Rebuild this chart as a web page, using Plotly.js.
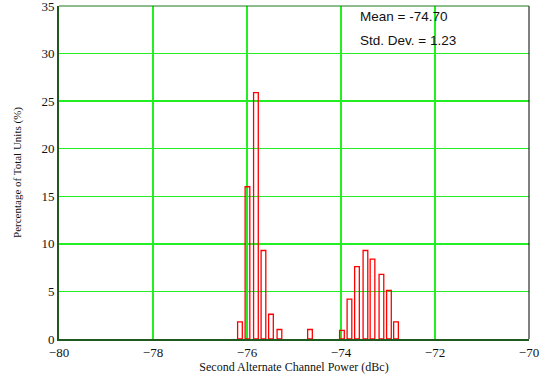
<!DOCTYPE html>
<html><head><meta charset="utf-8">
<script src="https://cdn.plot.ly/plotly-3.0.1.min.js"></script>
<style>html,body{margin:0;padding:0;background:#fff}</style>
</head><body><div id="chart" style="width:543px;height:377px"></div>
<script>
const binCenters = [-76.15, -75.99, -75.81, -75.65, -75.49, -75.31, -74.66,
                    -73.98, -73.82, -73.66, -73.48, -73.33, -73.14, -72.98, -72.83];
const percentUnits = [1.8, 16.0, 25.9, 9.3, 2.6, 1.0, 1.0,
                      0.9, 4.2, 7.6, 9.3, 8.4, 6.8, 5.1, 1.8];
const yTicks = [0, 5, 10, 15, 20, 25, 30, 35];
const statLabels = ["Mean = -74.70", "Std. Dev. = 1.23"];

const trace = {
  type: 'bar', x: binCenters, y: percentUnits, width: 0.1,
  marker: {color: 'rgba(255,255,255,0)', line: {color: '#ff0000', width: 1.3}},
  hoverinfo: 'none'
};
const gridCol = '#22ee22';
const layout = {
  width: 543, height: 377,
  margin: {l: 59, r: 14, t: 6, b: 38},
  paper_bgcolor: '#fff', plot_bgcolor: '#fff',
  showlegend: false,
  xaxis: {
    range: [-80, -70], dtick: 2, tick0: -80,
    showgrid: true, gridcolor: gridCol, gridwidth: 1.5,
    zeroline: false, showline: true, linecolor: '#1e5a1e', linewidth: 2,
    ticks: '', ticklabeloverflow: 'allow',
    tickfont: {family: 'Liberation Serif', size: 13, color: '#111'},
    title: {text: 'Second Alternate Channel Power (dBc)', font: {family: 'Liberation Serif', size: 12, color: '#111'}, standoff: 3}
  },
  yaxis: {
    range: [0, 35], tickmode: 'array', tickvals: yTicks,
    showgrid: true, gridcolor: gridCol, gridwidth: 1.5,
    zeroline: false, showline: true, linecolor: '#1e5a1e', linewidth: 2,
    ticks: '', ticklabeloverflow: 'allow',
    tickfont: {family: 'Liberation Serif', size: 13, color: '#111'},
    title: {text: 'Percentage of Total Units (%)', font: {family: 'Liberation Serif', size: 11, color: '#111'}, standoff: 18}
  },
  shapes: [
    {type: 'line', xref: 'paper', yref: 'paper', x0: 1, x1: 1, y0: 0, y1: 1, line: {color: '#000', width: 1}},
    {type: 'line', xref: 'paper', yref: 'paper', x0: 0, x1: 1, y0: 1, y1: 1, line: {color: '#1a7a1a', width: 1}}
  ],
  annotations: [
    {x: -73.64, y: 33.9, xref: 'x', yref: 'y', text: statLabels[0], showarrow: false, xanchor: 'left', yanchor: 'middle', font: {family: 'Liberation Sans', size: 13.5, color: '#111'}},
    {x: -73.64, y: 31.4, xref: 'x', yref: 'y', text: statLabels[1], showarrow: false, xanchor: 'left', yanchor: 'middle', font: {family: 'Liberation Sans', size: 13.5, color: '#111'}}
  ]
};
Plotly.newPlot('chart', [trace], layout, {staticPlot: true, displayModeBar: false});
</script></body></html>
